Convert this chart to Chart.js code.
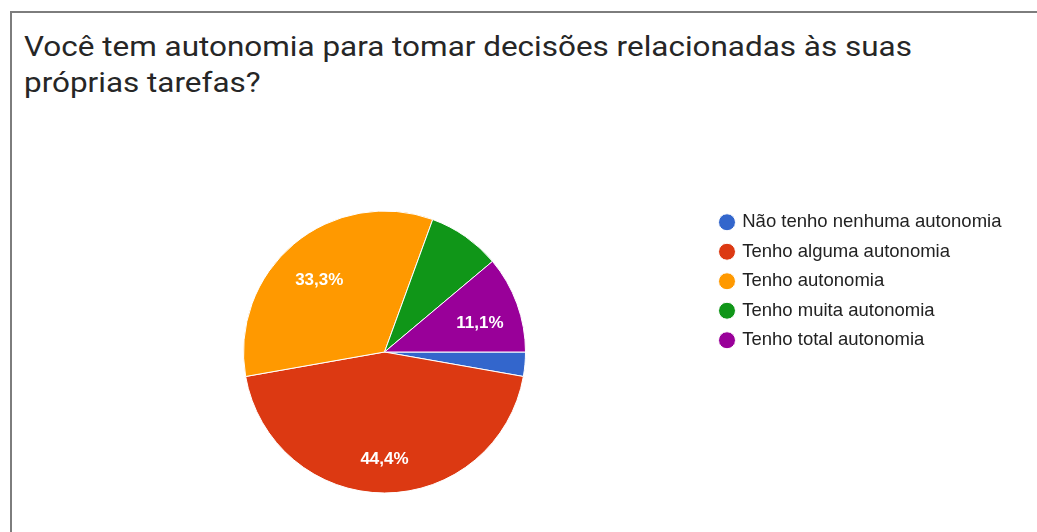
<!DOCTYPE html>
<html>
<head>
<meta charset="utf-8">
<script src="https://cdn.jsdelivr.net/npm/chart.js@4.4.1/dist/chart.umd.min.js"></script>
<style>
  html, body { margin: 0; padding: 0; background: #fff; }
  #wrap { position: relative; width: 1037px; height: 532px; overflow: hidden; }
  #frame {
    position: absolute; left: 10px; top: 11px; width: 1100px; height: 600px;
    border-left: 2px solid #7d7d7d; border-top: 2px solid #7d7d7d;
  }
  #title {
    position: absolute; left: 24px; top: 29px;
    font-family: Roboto, Arial, sans-serif; font-size: 27px; line-height: 36px;
    color: #262626; white-space: nowrap;
    transform: scaleX(1.165); transform-origin: 0 0;
  }
  #pie { position: absolute; left: 0; top: 0; }
</style>
</head>
<body>
<div id="wrap">
  <div id="frame"></div>
  <div id="title">Você tem autonomia para tomar decisões relacionadas às suas<br>próprias tarefas?</div>
  <canvas id="pie" width="1037" height="532"></canvas>
</div>
<script>
  const labels = [
    "Não tenho nenhuma autonomia",
    "Tenho alguma autonomia",
    "Tenho autonomia",
    "Tenho muita autonomia",
    "Tenho total autonomia"
  ];
  const responses = [1, 16, 12, 3, 4];
  const colors = ["#3366cc", "#dc3912", "#ff9900", "#109618", "#990099"];

  function pctText(value, total) {
    return (value / total * 100).toFixed(1).replace(".", ",") + "%";
  }

  // percentage labels inside the bigger slices
  const sliceLabels = {
    id: "sliceLabels",
    afterDatasetsDraw(chart) {
      const ctx = chart.ctx;
      const meta = chart.getDatasetMeta(0);
      const data = chart.data.datasets[0].data;
      const total = data.reduce((a, b) => a + b, 0);
      ctx.save();
      ctx.font = "bold 17px Arial";
      ctx.fillStyle = "#fff";
      ctx.textAlign = "center";
      ctx.textBaseline = "middle";
      meta.data.forEach((arc, i) => {
        if (data[i] / total < 0.1) return;
        const p = arc.getProps(["x", "y", "startAngle", "endAngle", "outerRadius"], true);
        const mid = (p.startAngle + p.endAngle) / 2;
        const r = p.outerRadius * 0.72;
        ctx.fillText(pctText(data[i], total), p.x + Math.cos(mid) * r, p.y + Math.sin(mid) * r + 6);
      });
      ctx.restore();
    }
  };

  new Chart(document.getElementById("pie").getContext("2d"), {
    type: "pie",
    data: {
      labels,
      datasets: [{
        data: responses,
        backgroundColor: colors,
        borderColor: "#fff",
        borderWidth: 1,
        radius: 141
      }]
    },
    options: {
      responsive: false,
      animation: false,
      rotation: 90,
      layout: { padding: { top: 202, bottom: 30, left: 59, right: 27 } },
      plugins: {
        legend: {
          position: "right",
          align: "start",
          maxWidth: 300,
          labels: {
            usePointStyle: true,
            pointStyle: "circle",
            boxWidth: 12,
            boxHeight: 12,
            padding: 11,
            color: "#222",
            font: { family: "Arial", size: 18.5 }
          }
        },
        tooltip: { enabled: false }
      }
    },
    plugins: [sliceLabels]
  });
</script>
</body>
</html>
